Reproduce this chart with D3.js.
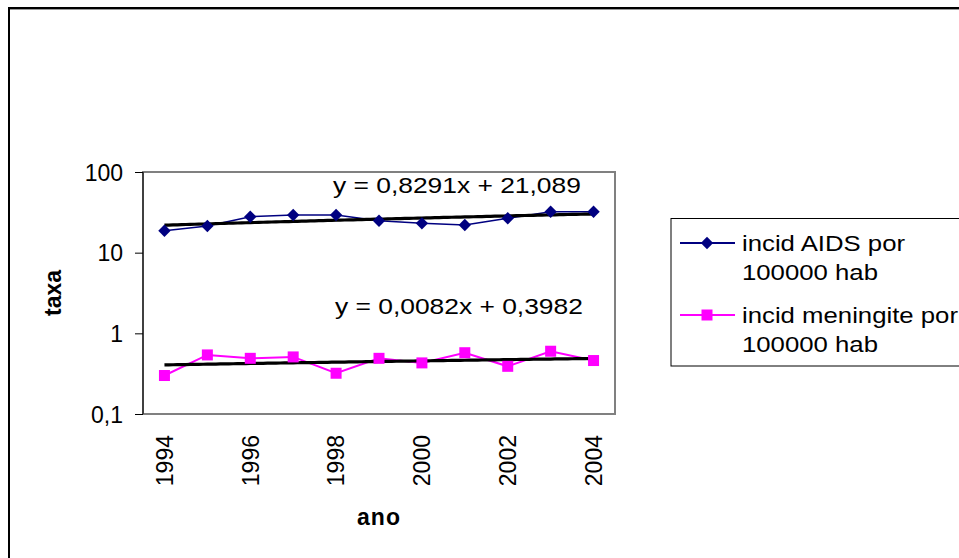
<!DOCTYPE html>
<head>
<meta charset="utf-8">
<style>
  html,body { margin:0; padding:0; background:#fff; }
  text { font-family: "Liberation Sans", Arial, sans-serif; }
</style>
<script src="https://d3js.org/d3.v7.min.js"></script>
</head>
<body>
<div id="chart"></div>
<script>
// data
var anos = [1994, 1995, 1996, 1997, 1998, 1999, 2000, 2001, 2002, 2003, 2004];
var aids = [18.7, 21.4, 27.9, 29.3, 29.3, 24.9, 23.1, 22.0, 26.7, 32.2, 32.2];
var meningite = [0.30, 0.54, 0.49, 0.51, 0.32, 0.49, 0.43, 0.575, 0.39, 0.60, 0.46];
var yTicks = [0.1, 1, 10, 100];
var yTickLabels = ["0,1", "1", "10", "100"];
var xTickLabels = [1994, 1996, 1998, 2000, 2002, 2004];
// trendline coefficients shown in the chart (x = 1..11)
var trendSlope = [0.8291, 0.0082];
var trendIntercept = [21.089, 0.3982];
var trendText = ["y = 0,8291x + 21,089", "y = 0,0082x + 0,3982"];
var legendNames = [["incid AIDS por", "100000 hab"], ["incid meningite por", "100000 hab"]];

var W = 959, H = 558;
var margin = {top: 172, left: 143},
    width = 472, height = 242;

var svg = d3.select("#chart").append("svg")
  .attr("width", W).attr("height", H);

// outer chart border
svg.append("rect")
  .attr("x", 9).attr("y", 9.5).attr("width", 1000).attr("height", 600)
  .attr("fill", "none").attr("stroke", "#999").attr("stroke-width", 1);
svg.append("rect")
  .attr("x", 9).attr("y", 8).attr("width", 1000).attr("height", 600)
  .attr("fill", "none").attr("stroke", "#000").attr("stroke-width", 2);

// text drawn a bit wide, like the original rendering
function wideText(sel, tx, ty, k, str) {
  return sel.append("text")
    .attr("transform", "translate(" + tx + "," + ty + ") scale(" + k + ",1)")
    .attr("font-size", 22)
    .text(str);
}

var g = svg.append("g").attr("transform", "translate(" + margin.left + "," + margin.top + ")");

var x = d3.scalePoint().domain(anos).range([0, width]).padding(0.5);
var y = d3.scaleLog().domain([0.1, 100]).range([height, 0]);

// plot area
g.append("rect")
  .attr("x", 0).attr("y", 0).attr("width", width).attr("height", height)
  .attr("fill", "#fff").attr("stroke", "#808080").attr("stroke-width", 2);

// y axis
var yAxis = g.append("g")
  .call(d3.axisLeft(y).tickValues(yTicks).tickSize(8).tickPadding(12)
    .tickFormat(function(d, i){ return yTickLabels[i]; }));
yAxis.select(".domain").attr("stroke", "#000").attr("d", "M0,0V" + height);
yAxis.selectAll("line").attr("stroke", "#000");
yAxis.selectAll("text")
  .attr("font-family", "Liberation Sans, Arial, sans-serif")
  .attr("font-size", 23).attr("fill", "#000").attr("dy", "0.36em");

// x tick labels (rotated)
g.selectAll(".xlab")
  .data(xTickLabels)
  .enter().append("text")
    .attr("class", "xlab")
    .attr("transform", function(d){ return "translate(" + x(d) + "," + (height + 21) + ") rotate(-90)"; })
    .attr("text-anchor", "end")
    .attr("dy", "0.36em")
    .attr("font-size", 23)
    .text(function(d){ return d; });

// axis titles
svg.append("text")
  .attr("x", margin.left + width / 2).attr("y", 525)
  .attr("text-anchor", "middle")
  .attr("font-size", 23).attr("font-weight", "bold")
  .attr("letter-spacing", 1)
  .text("ano");
svg.append("text")
  .attr("transform", "translate(61," + (margin.top + height / 2) + ") rotate(-90)")
  .attr("text-anchor", "middle")
  .attr("font-size", 23).attr("font-weight", "bold")
  .text("taxa");

var series = [
  {values: aids, color: "#000080", width: 1.5, shape: "diamond"},
  {values: meningite, color: "#ff00ff", width: 2, shape: "square"}
];

var line = d3.line()
  .x(function(d, i){ return x(anos[i]); })
  .y(function(d){ return y(d); });

series.forEach(function(s){
  g.append("path")
    .datum(s.values)
    .attr("fill", "none")
    .attr("stroke", s.color)
    .attr("stroke-width", s.width)
    .attr("d", line);
});

// trendlines
var steps = d3.range(0, 101).map(function(k){ return 1 + k / 10; });
var xIdx = d3.scaleLinear().domain([1, anos.length]).range([x(anos[0]), x(anos[anos.length - 1])]);
trendSlope.forEach(function(m, j){
  g.append("path")
    .datum(steps)
    .attr("fill", "none")
    .attr("stroke", "#000")
    .attr("stroke-width", 3.2)
    .attr("d", d3.line()
      .x(function(t){ return xIdx(t); })
      .y(function(t){ return y(m * t + trendIntercept[j]); }));
});

// markers
function drawMarker(sel, shape, color, cx, cy) {
  if (shape === "diamond") {
    sel.append("path")
      .attr("d", d3.symbol().type(d3.symbolDiamond2).size(98)())
      .attr("transform", "translate(" + cx + "," + cy + ")")
      .attr("fill", color);
  } else {
    sel.append("rect")
      .attr("x", cx - 5.5).attr("y", cy - 5.5).attr("width", 11).attr("height", 11)
      .attr("fill", color);
  }
}
series.forEach(function(s){
  s.values.forEach(function(v, i){
    drawMarker(g, s.shape, s.color, x(anos[i]), y(v));
  });
});

// equations
wideText(svg, 333, 193, 1.2, trendText[0]);
wideText(svg, 335, 314, 1.2, trendText[1]);

// legend
var leg = svg.append("g");
leg.append("rect")
  .attr("x", 671).attr("y", 218.5).attr("width", 400).attr("height", 147.5)
  .attr("fill", "#fff").attr("stroke", "#000").attr("stroke-width", 1);
var legY = [243, 315];
series.forEach(function(s, i){
  leg.append("line")
    .attr("x1", 680).attr("x2", 735).attr("y1", legY[i]).attr("y2", legY[i])
    .attr("stroke", s.color).attr("stroke-width", 2);
  drawMarker(leg, s.shape, s.color, 707, legY[i]);
  legendNames[i].forEach(function(t, k){
    wideText(leg, 742, legY[i] + k * 29 + 8, 1.17, t);
  });
});
</script>
</body>
</html>
